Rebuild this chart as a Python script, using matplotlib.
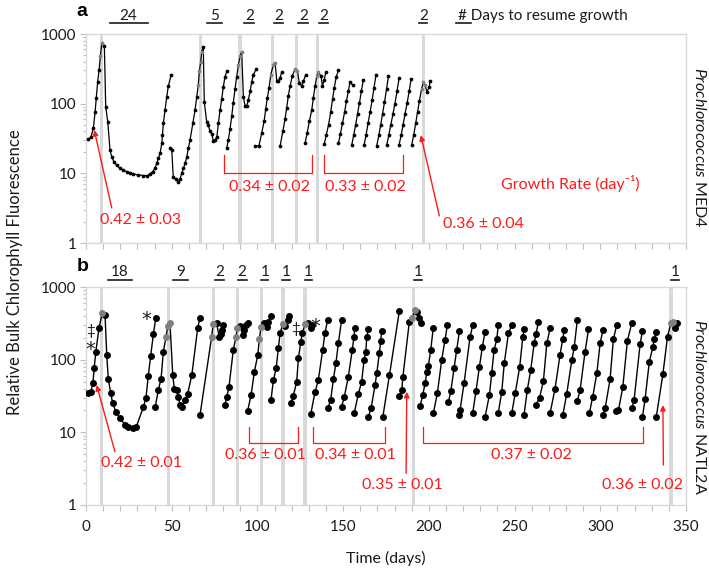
import numpy as np
import matplotlib.pyplot as plt
from matplotlib.ticker import FixedLocator, LogLocator, MultipleLocator, NullFormatter

plt.rcParams['font.family'] = ['Lato', 'DejaVu Sans']
plt.rcParams['mathtext.fontset'] = 'custom'
plt.rcParams['mathtext.rm'] = 'Lato'
plt.rcParams['mathtext.it'] = 'Lato:italic'

# ---------------- data ----------------
# MED4 (panel a): one list per transfer series, day and relative fluorescence
med4_days = [
    [1.3, 2.9, 4.3, 5.3, 6.0, 6.8, 7.6, 8.4, 9.2, 10.7, 11.5, 12.7, 14.0, 15.0, 16.3, 17.9, 19.8, 21.8,
     23.7, 25.7, 27.6, 30.5, 33.4, 35.8, 37.3, 38.9, 40.3, 41.2, 42.2, 43.2, 44.2, 44.6, 45.1, 46.1,
     47.1, 48.0, 49.6],
    [49.0, 50.0, 50.9, 52.5, 53.9, 54.8, 55.8, 56.8, 57.8, 58.8, 59.7, 60.7, 62.3, 63.6, 64.6, 65.5,
     66.1, 66.9, 67.5, 68.4, 69.0, 70.4, 71.4, 72.3, 73.3, 74.3, 75.3, 76.3, 77.2, 78.2, 79.2, 80.1,
     81.1, 82.1],
    [82.1, 83.0, 84.0, 85.0, 85.9, 86.9, 87.9, 88.9, 89.8, 90.8, 91.8, 92.8, 93.7, 94.7, 95.7, 96.7,
     97.6, 99.2],
    [98.6, 100.9, 102.5, 103.9, 104.8, 105.8, 106.8, 107.8, 109.3, 110.3, 111.3, 112.2, 113.2, 114.2],
    [113.2, 114.8, 116.1, 117.1, 118.0, 119.0, 120.4, 121.9, 123.3, 124.4, 125.8, 126.8, 128.2],
    [127.8, 129.0, 130.3, 131.7, 132.6, 133.6, 134.6, 135.5, 137.1, 137.9, 139.0, 139.9],
    [139.0, 140.2, 141.5, 142.7, 143.8, 144.8, 145.9, 147.2],
    [147.2, 148.4, 149.6, 150.8, 151.9, 153.0, 154.0, 155.6],
    [155.0, 156.2, 157.3, 158.4, 159.5, 160.6, 161.8],
    [162.2, 163.4, 164.5, 165.7, 166.9, 168.0, 169.2],
    [169.6, 170.8, 171.9, 173.0, 174.1, 175.3, 176.4],
    [175.4, 176.6, 177.8, 179.0, 180.2, 181.4, 182.6],
    [182.6, 183.8, 185.0, 186.1, 187.3, 188.5, 189.6],
    [190.0, 191.2, 192.3, 193.4, 194.5, 195.7, 196.8, 197.8, 198.8, 200.3, 200.7],
]
med4_vals = [
    [31, 33, 45, 75, 122, 205, 300, 480, 745, 680, 90, 55, 21.6, 17.3, 14.6, 13.1, 11.8, 11.2,
     10.6, 10.2, 9.8, 9.5, 9.3, 9.3, 9.8, 10.6, 11.8, 13.9, 16.4, 19.4, 26.9, 35.3, 52, 81,
     125, 178, 256],
    [23, 22, 8.9, 8.2, 7.6, 8.2, 10, 11.8, 13.9, 17.3, 23, 30, 52, 81, 125, 185,
     290, 400, 560, 660, 105, 55, 49, 40, 37, 29, 30, 33, 52, 81, 118, 175,
     245, 290],
    [23, 30, 43, 66, 103, 160, 245, 360, 480, 560, 125, 92, 92, 113, 150, 208, 260, 310],
    [24.5, 25, 38, 56, 83, 122, 170, 260, 365, 390, 210, 210, 235, 285],
    [24.5, 40, 60, 88, 128, 178, 252, 315, 298, 198, 178, 210, 262],
    [27, 38, 56, 82, 120, 178, 248, 285, 248, 180, 222, 285],
    [26.5, 36, 50, 75, 115, 168, 238, 300],
    [27, 37, 52, 75, 108, 150, 206, 185],
    [25.5, 36, 50, 72, 102, 150, 222],
    [25.5, 36, 52, 76, 112, 170, 262],
    [25, 35, 50, 72, 105, 160, 248],
    [25.5, 35, 50, 70, 100, 150, 232],
    [25.5, 35, 50, 72, 102, 150, 225],
    [25.5, 36, 52, 76, 110, 160, 206, 185, 148, 175, 214],
]

# NATL2A (panel b)
natl_days = [
    [1.3, 2.8, 4.0, 4.8, 5.7, 7.6, 9.5, 11.1, 12.1, 13.0, 14.4, 15.6, 17.5, 19.8, 22.8, 24.7, 27.2,
     29.2, 33.4, 35.0, 36.3, 37.7, 39.3, 40.7],
    [40.3, 42.2, 43.8, 45.1, 46.7, 47.7, 49.0, 50.6, 51.5, 52.9, 53.9, 54.8, 55.8, 57.8, 59.3, 61.7,
     65.2, 66.5],
    [66.5, 73.3, 74.2, 76.2, 77.7, 78.6, 79.5, 80.0],
    [81.1, 82.1, 83.4, 85.9, 87.5, 88.3, 89.9, 91.4, 92.4, 93.3, 94.7],
    [94.3, 96.3, 98.2, 100.2, 101.1, 102.1, 104.0, 105.4, 106.4, 107.9],
    [107.9, 109.3, 110.9, 112.2, 113.2, 114.7, 116.3, 117.7, 118.7],
    [119.6, 120.9, 122.9, 123.9, 125.3, 126.2, 127.8, 129.7, 131.1, 131.8],
    [131.1, 133.6, 135.5, 138.1, 139.4, 141.0],
    [141.0, 142.7, 144.3, 145.8, 147.2, 149.1],
    [149.1, 150.7, 153.0, 155.3, 156.3, 156.9],
    [156.5, 158.9, 160.8, 162.2, 163.2, 163.8, 164.7],
    [164.7, 166.3, 168.6, 169.6, 171.1, 171.9, 172.5],
    [173.1, 177.0, 182.8],
    [182.8, 184.2, 184.8, 188.6, 190.0, 192.0, 193.0, 194.5, 195.3],
    [194.9, 196.4, 197.8, 198.8, 199.7, 201.1, 202.6],
    [202.6, 205.0, 207.5, 209.4, 210.8],
    [211.4, 212.8, 214.7, 216.2, 217.8],
    [217.6, 218.2, 220.5, 224.0, 225.6],
    [225.6, 227.5, 229.5, 231.2, 232.8],
    [232.8, 235.3, 236.7, 238.0, 239.6, 240.5],
    [240.5, 242.5, 244.0, 246.4, 248.4],
    [248.4, 250.4, 253.0, 254.8, 255.5],
    [255.5, 257.4, 259.4, 261.4, 262.5, 263.9],
    [262.5, 264.6, 266.8, 268.8, 270.7],
    [270.7, 273.6, 276.5, 278.1, 279.0],
    [278.1, 280.4, 283.4, 284.8, 286.6],
    [286.6, 288.2, 291.1, 293.1],
    [293.6, 295.6, 298.0, 299.9, 301.5],
    [301.5, 302.8, 305.7, 307.6, 309.6],
    [309.2, 310.6, 313.1, 315.8, 318.4],
    [318.4, 319.7, 323.2, 324.6],
    [324.6, 326.1, 328.6, 330.6, 331.4, 332.6],
    [332.6, 336.5, 339.2, 341.1, 342.6, 344.6, 343.6],
]
natl_vals = [
    [35, 36, 47, 78, 126, 275, 442, 417, 116, 55, 34.5, 25, 19, 15.7, 12.6, 12, 11.3,
     11.7, 22, 30, 59, 112, 223, 377],
    [22, 38, 55, 128, 207, 290, 315, 61, 40, 38, 31, 23.8, 22, 27.8, 34, 61, 277, 377],
    [17.3, 207, 305, 315, 207, 225, 260, 300],
    [24, 31, 42, 135, 207, 270, 290, 218, 255, 300, 315],
    [19.8, 32.6, 68, 116, 190, 283, 315, 283, 331, 398],
    [27.8, 52, 76, 143, 230, 305, 290, 350, 398],
    [25, 31.6, 50, 104, 176, 235, 305, 315, 277, 300],
    [17.8, 36, 52, 138, 235, 355],
    [21.4, 27.8, 53.6, 91, 167, 355],
    [22.5, 31, 58, 135, 207, 277],
    [18.6, 34, 50, 99, 128, 207, 261],
    [16.4, 21.4, 45, 65, 122, 182, 250],
    [16.1, 61, 471],
    [31.6, 38, 57, 332, 369, 480, 457, 369, 322],
    [23, 32.6, 47, 68, 82, 138, 277],
    [18.3, 35, 100, 186, 300],
    [26, 37, 76, 135, 246],
    [17.3, 20.3, 47, 203, 300],
    [18.6, 37.3, 80, 150, 243],
    [16.4, 32.6, 66, 135, 190, 300],
    [18.6, 36, 90, 230, 300],
    [18.6, 35, 80, 207, 261],
    [17.3, 38, 72, 167, 225, 331],
    [23.8, 30, 51, 167, 270],
    [18.3, 40, 116, 195, 252],
    [17.3, 33.6, 99, 150, 355],
    [27.2, 38, 128, 261],
    [18.3, 31, 66, 170, 252],
    [17.3, 21.4, 53.6, 190, 300],
    [19.8, 20.3, 41.5, 182, 322],
    [21.4, 27.8, 162, 250],
    [16.4, 28.4, 94, 148, 190, 243],
    [16, 63, 207, 315, 331, 322, 277],
]

# days of the grey bands
med4_bands = [9.2, 66.9, 89.8, 108.9, 122.9, 135.1, 196.8]
natl_bands = [9.2, 48.0, 74.3, 88.3, 102.5, 114.8, 127.8, 191.0, 341.3]

# days to resume growth (label, centre day, underline start, underline end)
med4_resume = ['24', '5', '2', '2', '2', '2', '2']
med4_resume_day = [24.5, 74.8, 95.3, 112.5, 126.8, 138.8, 196.8]
med4_resume_line = [(14.0, 36.0), (70.4, 79.2), (92.4, 98.2), (109.9, 115.1),
                    (123.9, 129.7), (136.1, 141.4), (194.5, 199.1)]
natl_resume = ['18', '9', '2', '2', '1', '1', '1', '1', '1']
natl_resume_day = [19.8, 55.4, 78.0, 91.1, 104.3, 116.8, 129.9, 193.7, 343.6]
natl_resume_line = [(13.0, 26.7), (51.0, 59.7), (75.3, 80.5), (88.5, 93.7), (102.1, 106.4),
                    (114.5, 119.0), (127.8, 132.0), (191.5, 195.9), (341.3, 346.0)]

# growth-rate labels: (text, day, value)
med4_rates = [('0.42 ± 0.03', 31.5, 2.15), ('0.34 ± 0.02', 107.3, 6.3),
              ('0.33 ± 0.02', 162.8, 6.3), ('0.36 ± 0.04', 231.9, 1.85)]
med4_arrows = [((15.0, 3.2), (4.8, 42)), ((206.1, 2.45), (195.3, 35.4))]
med4_brackets = [(80.7, 132.1, 18.3, 10.2), (139.0, 185.1, 18.3, 10.2)]

natl_rates = [('0.42 ± 0.01', 32.5, 3.75), ('0.36 ± 0.01', 104.5, 4.87), ('0.34 ± 0.01', 157.0, 4.87),
              ('0.35 ± 0.01', 184.7, 1.88), ('0.37 ± 0.02', 260.0, 4.87), ('0.36 ± 0.02', 324.9, 1.88)]
natl_arrows = [((16.9, 5.4), (6.2, 44.8)), ((186.7, 2.73), (187.1, 36.2)), ((336.8, 3.55), (336.5, 23.8))]
natl_brackets = [(95.2, 123.9, 11.9, 7.1), (132.6, 174.2, 11.9, 7.1), (196.4, 324.8, 11.9, 7.1)]

natl_marks = [('‡', 2.6, 250), ('*', 2.6, 140), ('*', 35.4, 360), ('‡', 122.5, 261), ('*', 133.6, 285)]

RED = '#ff1a1a'
GRID = '#d9d9d9'
INK = '#1a1a1a'


def draw_panel(ax, days_list, vals_list, bands, ms, lw, show_xlabels):
    for b in bands:
        ax.axvspan(b - 1.0, b + 1.0, color=GRID, lw=0, zorder=0)
    for d, v in zip(days_list, vals_list):
        d = np.array(d)
        v = np.array(v)
        ax.plot(d, v, '-', color='black', lw=lw, zorder=2)
        near = np.zeros(len(d), dtype=bool)
        for b in bands:
            near |= np.abs(d - b) < 1.5
        ax.plot(d[~near], v[~near], 'o', color='black', ms=ms, mew=0, zorder=3)
        ax.plot(d[near], v[near], 'o', color='#808080', ms=ms, mew=0, zorder=3)

    ax.set_yscale('log')
    ax.set_ylim(1, 1000)
    ax.set_xlim(0, 350)
    ax.yaxis.set_major_locator(FixedLocator([1, 10, 100, 1000]))
    ax.set_yticklabels(['1', '10', '100', '1000'])
    ax.yaxis.set_minor_locator(LogLocator(base=10, subs=np.arange(2, 10)))
    ax.yaxis.set_minor_formatter(NullFormatter())
    ax.xaxis.set_major_locator(MultipleLocator(50))
    ax.xaxis.set_minor_locator(MultipleLocator(10))
    ax.tick_params(axis='both', which='both', direction='out', color='#bfbfbf',
                   labelcolor=INK, labelsize=11, width=0.8)
    ax.tick_params(axis='y', which='major', length=4, pad=3)
    ax.tick_params(axis='y', which='minor', length=2.5)
    ax.tick_params(axis='x', which='both', length=4, pad=7)
    if not show_xlabels:
        ax.set_xticklabels([])
    for s in ax.spines.values():
        s.set_color(GRID)
        s.set_linewidth(1.0)


def draw_resume(ax, labels, days, lines, y_text, y_line):
    trans = ax.get_xaxis_transform()
    for lab, d, (x0, x1) in zip(labels, days, lines):
        ax.text(d, y_text, lab, transform=trans, ha='center', va='center',
                fontsize=11, color=INK, clip_on=False)
        ax.plot([x0, x1], [y_line, y_line], transform=trans, color=INK,
                lw=1.2, clip_on=False)


def draw_rates(ax, rates, arrows, brackets):
    for txt, d, v in rates:
        ax.text(d, v, txt, color=RED, ha='center', va='center', fontsize=11.5)
    for (x0, y0), (x1, y1) in arrows:
        ax.annotate('', xy=(x1, y1), xytext=(x0, y0),
                    arrowprops=dict(arrowstyle='-|>', color=RED, lw=1.0,
                                    mutation_scale=8, shrinkA=0, shrinkB=0))
    for x0, x1, top, bot in brackets:
        ax.plot([x0, x0, x1, x1], [top, bot, bot, top], color=RED, lw=0.9)


fig = plt.figure(figsize=(7.09, 5.69), dpi=100)
ax_a = fig.add_axes([0.1213, 0.5729, 0.8463, 0.3673])
ax_b = fig.add_axes([0.1213, 0.1125, 0.8463, 0.3831])

draw_panel(ax_a, med4_days, med4_vals, med4_bands, 2.7, 0.9, False)
draw_panel(ax_b, natl_days, natl_vals, natl_bands, 5.0, 1.0, True)

draw_resume(ax_a, med4_resume, med4_resume_day, med4_resume_line, 1.086, 1.053)
draw_resume(ax_b, natl_resume, natl_resume_day, natl_resume_line, 1.069, 1.032)

# note explaining the underlined numbers
trans_a = ax_a.get_xaxis_transform()
ax_a.text(217.2, 1.086, '# Days to resume growth', transform=trans_a, ha='left', va='center',
          fontsize=11, color=INK, clip_on=False)
ax_a.plot([215.9, 224.4], [1.053, 1.053], transform=trans_a, color=INK, lw=1.2, clip_on=False)

draw_rates(ax_a, med4_rates, med4_arrows, med4_brackets)
draw_rates(ax_b, natl_rates, natl_arrows, natl_brackets)
ax_a.text(282.4, 7.2, 'Growth Rate (day⁻¹)', color=RED, ha='center', va='center', fontsize=11.5)

for sym, d, v in natl_marks:
    if sym == '*':
        ax_b.text(d, v, sym, ha='center', va='center', fontsize=14, color=INK,
                  family='DejaVu Sans')
    else:
        ax_b.text(d, v, sym, ha='center', va='center', fontsize=11, color=INK)

ax_b.set_xlabel('Time (days)', fontsize=11.5, color=INK, labelpad=12)

fig.text(0.021, 0.522, 'Relative Bulk Chlorophyll Fluorescence', rotation=90, ha='center',
         va='center', fontsize=12, color=INK)

fig.text(0.116, 0.979, 'a', fontsize=14, fontweight='bold', family='Liberation Sans',
         ha='center', va='center')
fig.text(0.117, 0.532, 'b', fontsize=14, fontweight='bold', family='Liberation Sans',
         ha='center', va='center')

for y, strain in [(0.742, 'MED4'), (0.285, 'NATL2A')]:
    fig.text(0.987, y, r'$\it{Prochlorococcus}$ ' + strain, rotation=270, ha='center',
             va='center', fontsize=11.5, color=INK)

fig.savefig('out.png', dpi=100)
